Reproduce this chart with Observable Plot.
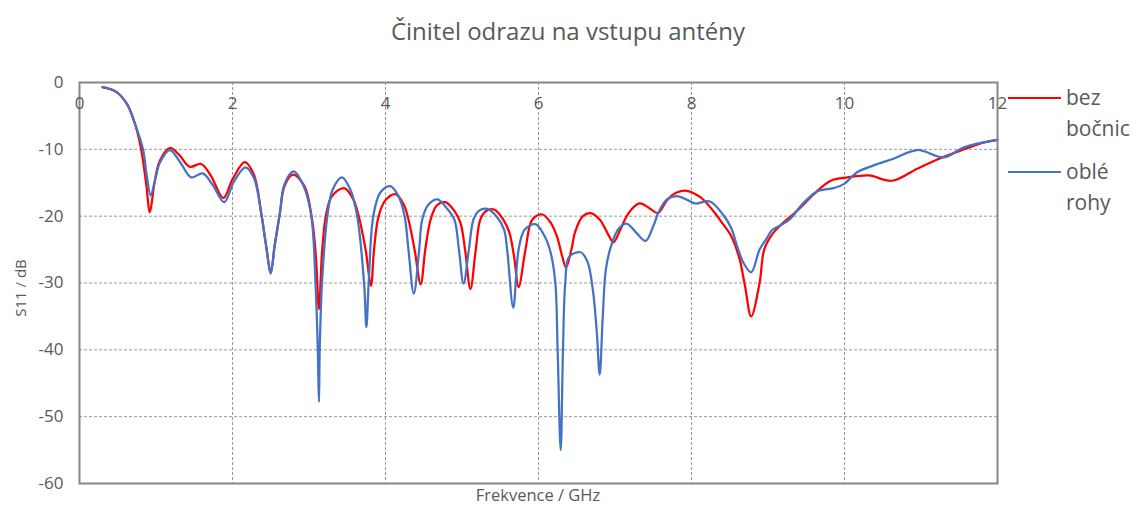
<!DOCTYPE html>
<html><head><meta charset="utf-8">
<script src="https://cdn.jsdelivr.net/npm/d3@7"></script>
<script src="https://cdn.jsdelivr.net/npm/@observablehq/plot@0.6"></script>
<style>
body{margin:0;background:#fff;font-family:"Open Sans","Noto Sans",sans-serif;color:#595959}
#wrap{position:relative;width:1140px;height:506px;overflow:hidden}
#title{height:62px;line-height:62px;text-align:center;font-size:24px;color:#595959;padding-right:4px;font-weight:400}
.lab{position:absolute;color:#595959;white-space:nowrap}
.leg{position:absolute;font-size:21px;color:#595959;line-height:31px}
.sw{position:absolute;height:2px;width:53px}
</style></head><body>
<div id="wrap">
<div id="title">Činitel odrazu na vstupu antény</div>
<div id="chart"></div>
<div class="lab" id="xl" style="left:538px;top:483px;font-size:16.5px;transform:translateX(-50%)">Frekvence / GHz</div>
<div class="lab" id="yl" style="left:20px;top:288px;font-size:15px;transform:translate(-50%,-50%) rotate(-90deg)">S11 / dB</div>
<div id="legend"></div>
</div>
<script>
const seriesNames = ["bez bočnic", "oblé rohy"];
const seriesColors = ["#ff0000", "#4472c4"];
const xTicks = [0, 2, 4, 6, 8, 10, 12];
const yTicks = [0, -10, -20, -30, -40, -50, -60];

const redFreq = [0.30,0.48,0.62,0.72,0.80,0.87,0.92,0.98,1.05,1.18,1.30,1.44,1.59,1.72,1.88,2.00,2.16,2.28,2.375,2.44,2.50,2.55,2.62,2.68,2.79,2.94,3.04,3.09,3.13,3.17,3.22,3.30,3.46,3.58,3.65,3.74,3.81,3.85,3.91,4.00,4.13,4.24,4.30,4.38,4.46,4.52,4.59,4.67,4.78,4.90,4.98,5.04,5.11,5.18,5.24,5.32,5.42,5.54,5.62,5.68,5.74,5.83,5.92,6.05,6.16,6.24,6.31,6.36,6.43,6.48,6.58,6.68,6.80,6.90,6.98,7.07,7.18,7.32,7.45,7.56,7.68,7.80,7.94,8.12,8.29,8.40,8.52,8.63,8.70,8.78,8.89,8.95,9.05,9.16,9.38,9.60,9.82,10.04,10.32,10.62,10.95,11.26,11.47,11.78,12.0];
const redS11 = [-0.7,-1.4,-3.2,-6.0,-9.6,-15.0,-19.4,-15.0,-11.7,-9.8,-10.8,-12.6,-12.2,-14.0,-17.3,-14.5,-11.9,-13.8,-19.5,-24.5,-28.4,-24.5,-19.5,-15.5,-13.8,-15.5,-20.5,-26.0,-33.9,-25.5,-20.0,-17.0,-15.8,-17.5,-20.0,-25.0,-30.4,-25.0,-20.0,-17.6,-16.7,-18.3,-20.5,-25.0,-30.2,-25.0,-20.5,-18.4,-17.9,-19.2,-21.0,-25.0,-30.9,-25.0,-20.5,-19.2,-19.0,-20.5,-22.5,-26.0,-30.6,-25.0,-20.5,-19.75,-21.0,-23.0,-26.0,-27.7,-25.0,-22.3,-20.0,-19.55,-20.5,-22.5,-23.9,-22.0,-19.5,-18.1,-18.8,-19.55,-17.6,-16.5,-16.2,-17.2,-19.3,-21.0,-23.0,-26.5,-30.5,-35.0,-30.0,-25.0,-22.8,-21.4,-19.2,-16.7,-14.7,-14.2,-13.9,-14.7,-12.9,-11.3,-10.4,-9.1,-8.6];

const blueFreq = [0.30,0.48,0.62,0.72,0.83,0.88,0.93,0.99,1.05,1.18,1.32,1.46,1.61,1.74,1.89,2.02,2.17,2.28,2.375,2.44,2.50,2.55,2.62,2.68,2.80,2.93,3.03,3.085,3.115,3.13,3.14,3.17,3.24,3.31,3.43,3.54,3.63,3.72,3.75,3.78,3.84,3.93,4.06,4.17,4.25,4.30,4.37,4.44,4.48,4.56,4.68,4.80,4.90,4.96,5.02,5.09,5.15,5.22,5.33,5.45,5.55,5.59,5.67,5.74,5.82,5.96,6.08,6.16,6.22,6.25,6.29,6.32,6.35,6.40,6.55,6.64,6.71,6.76,6.80,6.84,6.88,6.94,7.04,7.15,7.28,7.40,7.50,7.57,7.68,7.81,7.95,8.05,8.24,8.42,8.52,8.60,8.68,8.78,8.89,8.99,9.05,9.16,9.29,9.45,9.64,9.86,9.99,10.17,10.38,10.64,10.95,11.30,11.56,12.0];
const blueS11 = [-0.7,-1.4,-3.2,-6.0,-10.0,-14.0,-16.9,-14.5,-12.0,-10.1,-12.0,-14.2,-13.6,-15.3,-17.9,-14.8,-12.7,-14.3,-19.5,-24.5,-28.6,-24.5,-19.5,-15.2,-13.3,-15.5,-20.0,-29.9,-40.0,-47.8,-40.0,-30.0,-20.0,-16.0,-14.2,-16.0,-20.0,-30.0,-36.6,-30.0,-20.0,-16.5,-15.5,-17.0,-20.0,-25.0,-31.6,-25.0,-20.5,-18.3,-17.5,-18.8,-20.5,-25.0,-30.1,-25.0,-20.5,-19.2,-18.9,-20.0,-22.0,-25.0,-33.7,-25.0,-22.0,-21.2,-23.0,-25.5,-30.0,-40.0,-55.0,-40.0,-30.0,-26.1,-25.4,-26.8,-31.0,-37.0,-43.7,-35.0,-28.0,-24.8,-22.0,-21.1,-22.5,-23.7,-21.5,-19.4,-17.5,-17.0,-17.6,-18.1,-17.8,-19.9,-21.8,-24.6,-27.0,-28.4,-25.0,-23.2,-22.1,-21.4,-20.4,-18.2,-16.3,-15.8,-15.2,-13.4,-12.4,-11.4,-10.1,-11.2,-9.7,-8.6];

const red = redFreq.map((f, i) => ({f, v: redS11[i]}));
const blue = blueFreq.map((f, i) => ({f, v: blueS11[i]}));

const chart = Plot.plot({
  width: 1140, height: 444,
  marginTop: 20, marginBottom: 23, marginLeft: 79, marginRight: 143,
  style: {fontFamily: "'Open Sans', 'Noto Sans', sans-serif", color: "#595959", background: "#fff"},
  x: {domain: [0, 12], axis: null},
  y: {domain: [-60, 0], axis: null},
  marks: [
    Plot.ruleY(yTicks.filter(d => d > -60 && d < 0), {stroke: "#9a9a9a", strokeWidth: 1, strokeDasharray: "3,2"}),
    Plot.ruleX(xTicks.filter(d => d > 0 && d < 12), {stroke: "#9a9a9a", strokeWidth: 1, strokeDasharray: "3,2"}),
    Plot.line(red, {x: "f", y: "v", stroke: seriesColors[0], strokeWidth: 2.25, curve: "catmull-rom"}),
    Plot.line(blue, {x: "f", y: "v", stroke: seriesColors[1], strokeWidth: 2.25, curve: "catmull-rom"}),
    Plot.frame({stroke: "#868686", strokeWidth: 2}),
    Plot.text(yTicks, {x: d => 0, y: d => d, dx: -16, textAnchor: "end", text: d => String(d), fontSize: 17, fill: "#595959"}),
    Plot.text(xTicks, {x: d => d, y: d => 0, dy: 21, text: d => String(d), fontSize: 17, fill: "#595959"})
  ]
});
document.getElementById("chart").appendChild(chart);

const legend = document.getElementById("legend");
const legTop = [98, 172];
seriesNames.forEach((name, i) => {
  const sw = document.createElement("div");
  sw.className = "sw";
  sw.style.left = "1008px"; sw.style.top = (legTop[i] - 1) + "px";
  sw.style.background = seriesColors[i];
  legend.appendChild(sw);
  const t = document.createElement("div");
  t.className = "leg";
  t.style.left = "1066px"; t.style.top = (legTop[i] - 16) + "px";
  t.innerHTML = name.split(" ").join("<br>");
  legend.appendChild(t);
});
</script>
</body></html>
